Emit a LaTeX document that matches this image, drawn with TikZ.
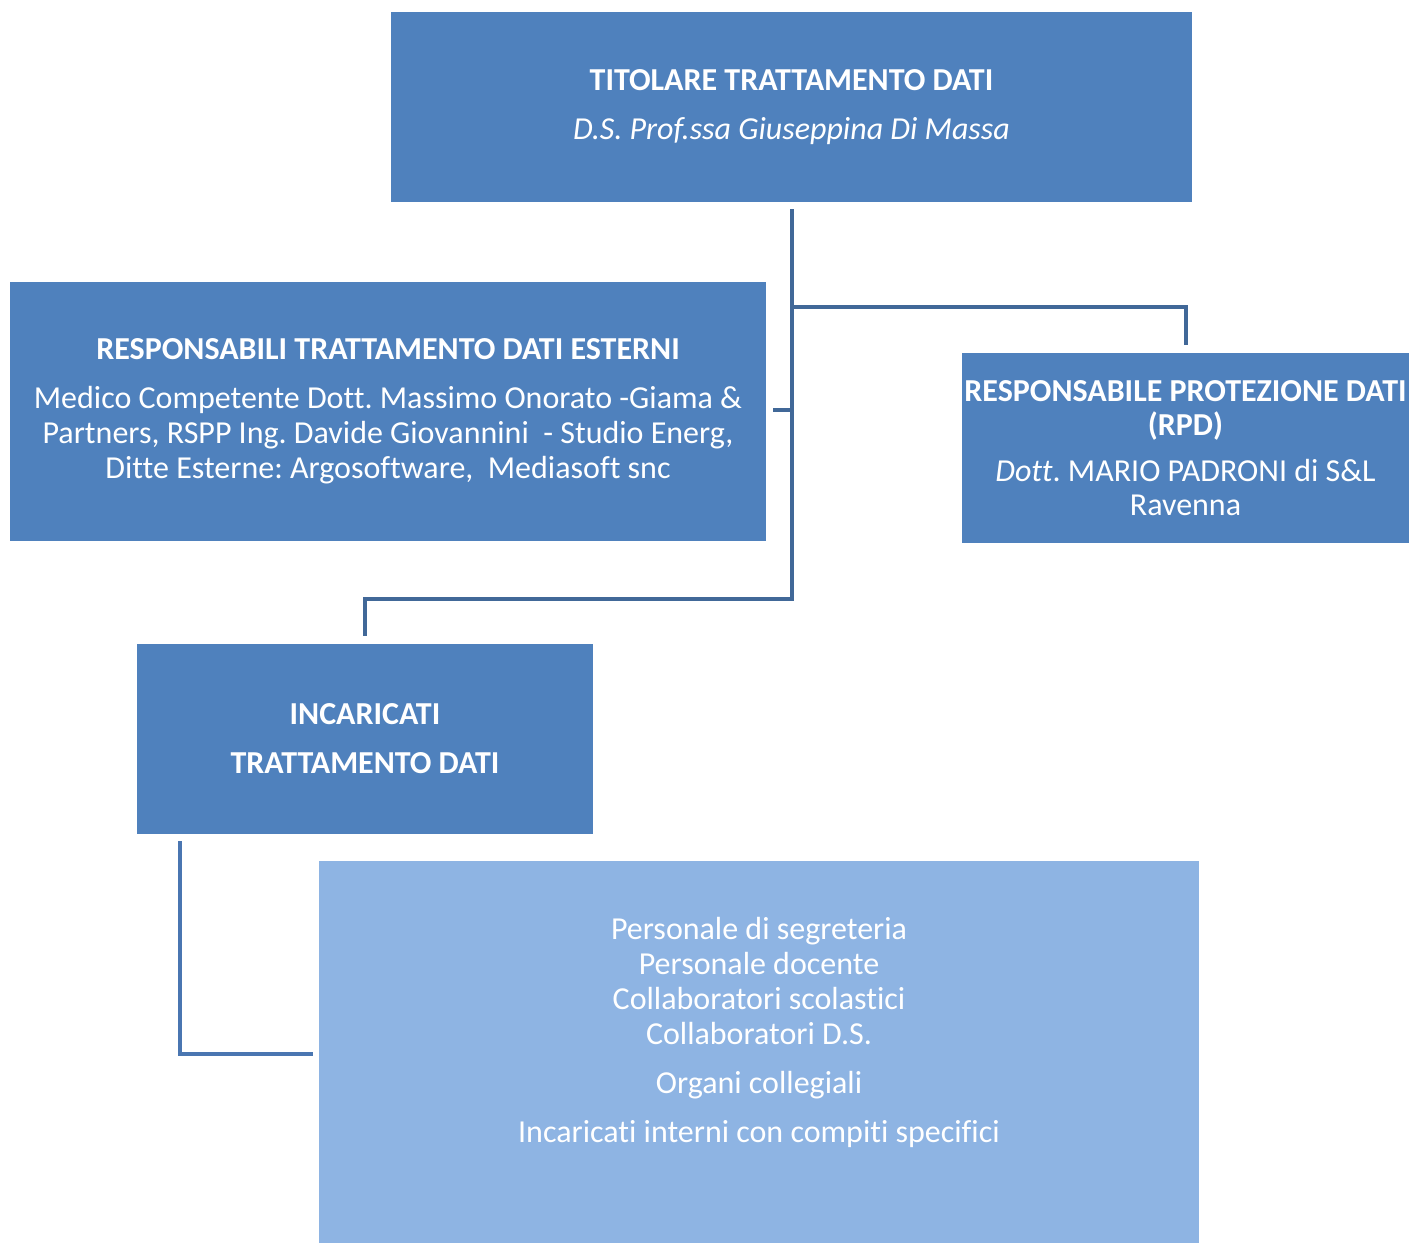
\documentclass[tikz,border=0pt]{standalone}
\usepackage{fontspec}
\setmainfont{Carlito}[Ligatures=NoCommon]
\frenchspacing
\definecolor{boxblue}{RGB}{79,129,189}
\definecolor{lightblue}{RGB}{142,180,227}
\definecolor{linkblue}{RGB}{65,104,152}
\definecolor{linkblueb}{RGB}{74,118,177}
\begin{document}
\begin{tikzpicture}[x=1pt,y=-1pt,
  box/.style={rectangle,fill=boxblue,draw=none,text=white,align=center,inner sep=0pt},
  lightbox/.style={rectangle,fill=lightblue,draw=none,inner sep=0pt},
  txt/.style={text=white,align=center,inner sep=0pt,font=\fontsize{32}{35}\selectfont},
  link/.style={draw=linkblue,line width=4pt},
  linkb/.style={draw=linkblueb,line width=4pt}]
\useasboundingbox (0,0) rectangle (1409,1243);
\node[box,minimum width=801pt,minimum height=190pt,font=\fontsize{32}{35}\selectfont] (top) at (791.5,107)
  {\textbf{TITOLARE TRATTAMENTO DATI}\\[14pt]\textit{D.S. Prof.ssa Giuseppina Di Massa}};
\node[box,minimum width=756pt,minimum height=259pt,font=\fontsize{32}{35}\selectfont] (ext) at (388,411.5)
  {\textbf{RESPONSABILI TRATTAMENTO DATI ESTERNI}\\[14pt]
   Medico Competente Dott. Massimo Onorato -Giama \&\\
   Partners, RSPP Ing. Davide Giovannini\ \ - Studio Energ,\\
   Ditte Esterne: Argosoftware,\ \ Mediasoft snc};
\node[box,minimum width=447pt,minimum height=190pt,font=\fontsize{32}{34}\selectfont] (rpd) at (1185.5,448)
  {\textbf{RESPONSABILE PROTEZIONE DATI}\\\textbf{(RPD)}\\[12pt]
   \textit{Dott}. MARIO PADRONI di S\&L\\Ravenna};
\node[box,minimum width=456pt,minimum height=190pt,font=\fontsize{32}{35}\selectfont] (inc) at (365,739)
  {\textbf{INCARICATI}\\[14pt]\textbf{TRATTAMENTO DATI}};
\node[lightbox,minimum width=880pt,minimum height=382pt] (staff) at (759,1052) {};
\node[txt] (stafftext) at (759,1032)
  {Personale di segreteria\\Personale docente\\Collaboratori scolastici\\Collaboratori D.S.\\[14pt]
   Organi collegiali\\[14pt]Incaricati interni con compiti specifici};
% connectors
\coordinate (trunktop) at (792,209);
\coordinate (rpdtop) at (1186,345);
\coordinate (inctop) at (365,636);
\coordinate (extstub) at (773,410);
\coordinate (incbot) at (180,841);
\coordinate (staffleft) at (313,1054);
\draw[link] (trunktop) -- (792,599) -- (inctop |- 0,599) -- (inctop);
\draw[link] (792,307) -- (rpdtop |- 0,307) -- (rpdtop);
\draw[link] (extstub) -- (794,410);
\draw[linkb] (incbot) |- (staffleft);
\end{tikzpicture}
\end{document}
